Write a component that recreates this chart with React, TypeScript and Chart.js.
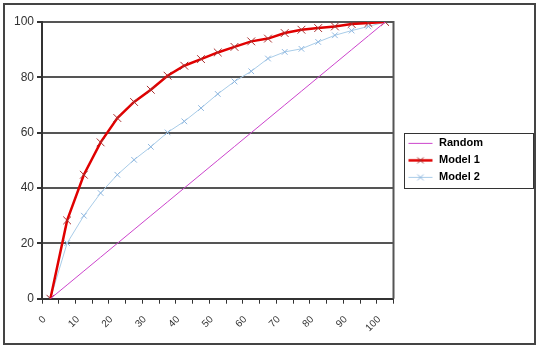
import React, { useEffect, useRef } from 'react';
import { Chart, registerables } from 'chart.js';

Chart.register(...registerables);

const categories = ['0', '5', '10', '15', '20', '25', '30', '35', '40', '45', '50', '55', '60', '65', '70', '75', '80', '85', '90', '95', '100'];
const randomValues = [0, 5, 10, 15, 20, 25, 30, 35, 40, 45, 50, 55, 60, 65, 70, 75, 80, 85, 90, 95, 100];
const model1Values = [0, 28.3, 44.8, 56.5, 65.3, 71.1, 75.5, 80.6, 84.2, 86.6, 89, 91, 93, 94, 96, 97.2, 97.8, 98.4, 99.3, 99.6, 100];
const model2Values = [0, 20.1, 30, 38.2, 44.8, 50.2, 54.9, 60.1, 64.1, 68.9, 74, 78.5, 82.2, 86.8, 89.2, 90.3, 92.8, 95.2, 96.9, 98.4, 100];
const yTickValues = [0, 20, 40, 60, 80, 100];
const seriesNames = ['Random', 'Model 1', 'Model 2'];

const FONT = 'Liberation Sans, Arial, sans-serif';

function makeSample(color: string, width: number, markerColor: string | null) {
  const c = document.createElement('canvas');
  c.width = 34;
  c.height = 11;
  const ctx = c.getContext('2d')!;
  ctx.strokeStyle = color;
  ctx.lineWidth = width;
  ctx.beginPath();
  ctx.moveTo(9, 5.5);
  ctx.lineTo(33, 5.5);
  ctx.stroke();
  if (markerColor) {
    ctx.strokeStyle = markerColor;
    ctx.lineWidth = 1;
    ctx.beginPath();
    ctx.moveTo(18, 2.5);
    ctx.lineTo(24, 8.5);
    ctx.moveTo(24, 2.5);
    ctx.lineTo(18, 8.5);
    ctx.stroke();
  }
  return c;
}

const framePlugin = {
  id: 'frame',
  beforeDatasetsDraw(chart: any) {
    const { ctx, chartArea } = chart;
    ctx.save();
    ctx.strokeStyle = '#555';
    ctx.lineWidth = 2;
    ctx.beginPath();
    ctx.moveTo(chartArea.right, chartArea.top - 1);
    ctx.lineTo(chartArea.right, chartArea.bottom);
    ctx.stroke();
    ctx.restore();
  },
  afterDraw(chart: any) {
    const { ctx } = chart;
    const boxes = chart.legend && chart.legend.legendHitBoxes;
    ctx.save();
    if (boxes && boxes.length) {
      const first = boxes[0];
      const last = boxes[boxes.length - 1];
      const left = Math.round(first.left + 4) + 0.5;
      const top = Math.round(first.top - 5) + 0.5;
      const bottom = Math.round(last.top + last.height + 5) + 0.5;
      const right = chart.width - 6 + 0.5;
      ctx.strokeStyle = '#333';
      ctx.lineWidth = 1;
      ctx.strokeRect(left, top, right - left, bottom - top);
    }
    ctx.strokeStyle = '#444';
    ctx.lineWidth = 2;
    ctx.strokeRect(4, 4, chart.width - 8, chart.height - 8);
    ctx.restore();
  },
};

export default function App() {
  const ref = useRef<HTMLCanvasElement | null>(null);

  useEffect(() => {
    document.body.style.margin = '0';
    const samples = [
      makeSample('#cc44cc', 1, null),
      makeSample('#e00000', 2.5, '#a02828'),
      makeSample('#a8cce8', 1, '#90b8e0'),
    ];
    const chart = new Chart(ref.current!, {
      type: 'line',
      data: {
        labels: categories,
        datasets: [
          {
            label: seriesNames[0],
            data: randomValues,
            borderColor: '#cc44cc',
            borderWidth: 1,
            pointRadius: 0,
            tension: 0,
          },
          {
            label: seriesNames[1],
            data: model1Values,
            borderColor: '#e00000',
            borderWidth: 2.5,
            pointStyle: 'crossRot',
            pointRadius: 5.5,
            pointBorderColor: '#a83030',
            pointBorderWidth: 1,
            tension: 0,
          },
          {
            label: seriesNames[2],
            data: model2Values,
            borderColor: '#a8cce8',
            borderWidth: 1,
            pointStyle: 'crossRot',
            pointRadius: 4,
            pointBorderColor: '#90b8e0',
            pointBorderWidth: 1,
            tension: 0,
          },
        ],
      },
      options: {
        responsive: false,
        animation: false,
        devicePixelRatio: 1,
        layout: { padding: { left: 11, top: 22, right: 46, bottom: 4 } },
        font: { family: FONT },
        plugins: {
          tooltip: { enabled: false },
          legend: {
            position: 'right',
            fullSize: false,
            labels: {
              usePointStyle: true,
              pointStyleWidth: 34,
              padding: 6,
              color: '#000',
              font: { family: FONT, size: 11, weight: 'bold' },
              generateLabels: (c: any) =>
                c.data.datasets.map((ds: any, i: number) => ({
                  text: ds.label,
                  pointStyle: samples[i],
                  fillStyle: 'transparent',
                  strokeStyle: 'transparent',
                  lineWidth: 0,
                  hidden: false,
                  datasetIndex: i,
                  fontColor: '#000',
                })),
            },
          },
        },
        scales: {
          x: {
            type: 'category',
            offset: true,
            grid: {
              offset: true,
              drawOnChartArea: false,
              drawTicks: true,
              tickLength: 5,
              tickColor: '#333',
              tickWidth: 1,
            },
            border: { color: '#333', width: 2 },
            ticks: {
              autoSkip: false,
              minRotation: 45,
              maxRotation: 45,
              padding: 10,
              labelOffset: -6,
              color: '#333',
              font: { family: FONT, size: 10 },
              callback: (value: any, index: number) => (index % 2 === 0 ? categories[index] : ''),
            },
          },
          y: {
            min: 0,
            max: 100,
            afterBuildTicks: (scale: any) => {
              scale.ticks = yTickValues.map((v) => ({ value: v }));
            },
            grid: {
              color: '#555',
              lineWidth: 2,
              tickLength: 5,
              tickColor: '#333',
              tickWidth: 2,
            },
            border: { color: '#333', width: 2 },
            ticks: {
              padding: 3,
              color: '#333',
              font: { family: FONT, size: 12 },
            },
          },
        },
      },
      plugins: [framePlugin],
    } as any);
    return () => chart.destroy();
  }, []);

  return (
    <div style={{ position: 'fixed', left: 0, top: 0, width: 539, height: 348, background: '#fff' }}>
      <canvas ref={ref} width={539} height={348} />
    </div>
  );
}
